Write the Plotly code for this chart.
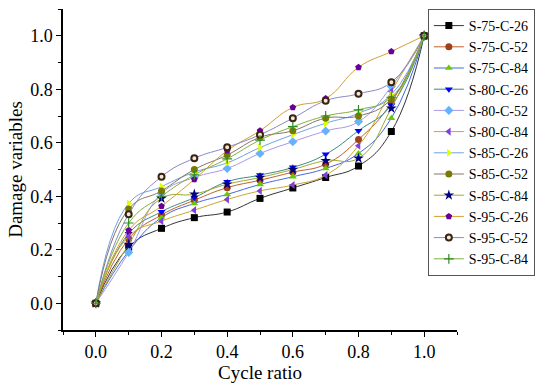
import plotly.graph_objects as go

# 循环比
cycle_ratio = [0.0, 0.1, 0.2, 0.3, 0.4, 0.5, 0.6, 0.7, 0.8, 0.9, 1.0]

# 各工况损伤变量
s75_c26 = [0.0, 0.21, 0.28, 0.32, 0.341, 0.392, 0.431, 0.47, 0.513, 0.642, 1.0]
s75_c52 = [0.0, 0.24, 0.33, 0.385, 0.432, 0.46, 0.49, 0.52, 0.612, 0.75, 1.0]
s75_c84 = [0.0, 0.195, 0.32, 0.373, 0.407, 0.444, 0.473, 0.504, 0.56, 0.692, 1.0]
s80_c26 = [0.0, 0.26, 0.342, 0.395, 0.454, 0.479, 0.508, 0.557, 0.645, 0.74, 1.0]
s80_c52 = [0.0, 0.19, 0.41, 0.47, 0.504, 0.56, 0.604, 0.644, 0.679, 0.81, 1.0]
s80_c84 = [0.0, 0.25, 0.307, 0.348, 0.388, 0.42, 0.442, 0.479, 0.589, 0.792, 1.0]
s85_c26 = [0.0, 0.373, 0.436, 0.49, 0.525, 0.582, 0.63, 0.673, 0.71, 0.78, 1.0]
s85_c52 = [0.0, 0.352, 0.42, 0.50, 0.554, 0.62, 0.645, 0.692, 0.70, 0.763, 1.0]
s85_c84 = [0.0, 0.22, 0.392, 0.408, 0.445, 0.47, 0.50, 0.533, 0.542, 0.729, 1.0]
s95_c26 = [0.0, 0.273, 0.363, 0.463, 0.57, 0.645, 0.732, 0.765, 0.882, 0.941, 1.0]
s95_c52 = [0.0, 0.333, 0.473, 0.542, 0.583, 0.63, 0.692, 0.757, 0.783, 0.826, 1.0]
s95_c84 = [0.0, 0.30, 0.40, 0.48, 0.54, 0.61, 0.66, 0.70, 0.723, 0.77, 1.0]

# (名称, 数据, 线色, 标记, 标记色)
series = [
    ('S-75-C-26', s75_c26, '#333333', 'square', '#000000'),
    ('S-75-C-52', s75_c52, '#C0602A', 'circle', '#A0401A'),
    ('S-75-C-84', s75_c84, '#4466E0', 'triangle-up', '#66CC00'),
    ('S-80-C-26', s80_c26, '#3C8C80', 'triangle-down', '#0000FF'),
    ('S-80-C-52', s80_c52, '#A898E8', 'diamond', '#66B2FF'),
    ('S-80-C-84', s80_c84, '#C8A828', 'triangle-left', '#8040E0'),
    ('S-85-C-26', s85_c26, '#6FA0E8', 'triangle-right', '#E0FF00'),
    ('S-85-C-52', s85_c52, '#857565', 'circle', '#7A7A00'),
    ('S-85-C-84', s85_c84, '#A0A830', 'star', '#000080'),
    ('S-95-C-26', s95_c26, '#D0A030', 'pentagon', '#660099'),
    ('S-95-C-52', s95_c52, '#8888C8', 'circle', '#F0E8D8'),
    ('S-95-C-84', s95_c84, '#80B040', 'cross-thin', '#2E8B22'),
]

fig = go.Figure()
for name, vals, lcolor, sym, mcolor in series:
    marker = dict(symbol=sym, size=7, color=mcolor)
    if name == 'S-95-C-52':
        marker['size'] = 6
        marker['line'] = dict(color='#3A2410', width=2)
    elif sym == 'cross-thin':
        marker['size'] = 7
        marker['line'] = dict(color=mcolor, width=1.2)
    elif sym == 'star':
        marker['size'] = 8
    fig.add_trace(go.Scatter(
        x=cycle_ratio, y=vals, name=name,
        mode='lines+markers',
        line=dict(color=lcolor, width=1, shape='spline', smoothing=1.3),
        marker=marker
    ))

axis_common = dict(
    automargin=False,
    showline=True, linecolor='black', linewidth=1.5,
    showgrid=False, zeroline=False,
    ticks='outside', ticklen=5, tickwidth=1.2, tickcolor='black',
    dtick=0.2, tick0=0, tickformat='.1f',
    minor=dict(ticks='outside', ticklen=3, dtick=0.1, tick0=0, tickcolor='black', tickwidth=1),
    tickfont=dict(family='Liberation Serif', size=18, color='black'),
    title_font=dict(family='Liberation Serif', size=19, color='black'),
)

fig.update_xaxes(range=[-0.1, 1.1], title_text='Cycle ratio', title_standoff=0, **axis_common)
fig.update_yaxes(range=[-0.1, 1.1], title_text='Damage variables', title_standoff=3, **axis_common)

fig.update_layout(
    width=550, height=386,
    margin=dict(l=63, r=93, t=9, b=56),
    paper_bgcolor='white', plot_bgcolor='white',
    font=dict(family='Liberation Serif', color='black'),
    legend=dict(
        x=0.926, y=1.0, xanchor='left', yanchor='top',
        bgcolor='white', bordercolor='#555555', borderwidth=1,
        font=dict(family='Liberation Serif', size=14, color='black'),
        tracegroupgap=0, itemwidth=30,
    ),
    showlegend=True,
)

# 去掉页面默认的 body 外边距，隐藏工具栏
fig.write_html("out.html", config={'displayModeBar': False},
               post_script="document.body.style.margin='0';")
